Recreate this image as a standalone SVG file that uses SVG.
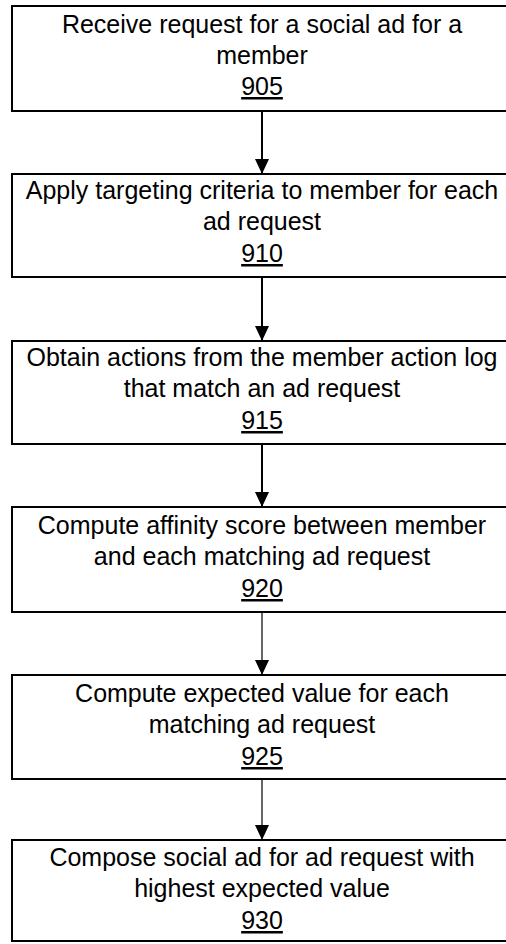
<svg xmlns="http://www.w3.org/2000/svg" width="506" height="944" viewBox="0 0 506 944">
<defs>
<style>
.box{fill:#fff;stroke:#000;stroke-width:2}
.t{font-family:"Liberation Sans",Arial,sans-serif;font-size:25px;fill:#000;text-anchor:middle}
.n{text-decoration:underline}
.c{stroke:#000;fill:none}
</style>
<marker id="ah" markerUnits="userSpaceOnUse" markerWidth="15" markerHeight="14" refX="15" refY="7" orient="auto" viewBox="0 0 15 14">
<path d="M0,0 L15,7 L0,14 Z" fill="#000"/>
</marker>
</defs>
<rect width="506" height="944" fill="#fff"/>
<g id="connectors">
<line class="c" x1="262" y1="111" x2="262" y2="174" stroke-width="2" marker-end="url(#ah)"/>
<line class="c" x1="262" y1="277" x2="262" y2="341" stroke-width="2" marker-end="url(#ah)"/>
<line class="c" x1="262" y1="444" x2="262" y2="507" stroke-width="2" marker-end="url(#ah)"/>
<line class="c" x1="262" y1="612" x2="262" y2="675" stroke-width="1.2" marker-end="url(#ah)"/>
<line class="c" x1="262" y1="779" x2="262" y2="840" stroke-width="1.2" marker-end="url(#ah)"/>
</g>
<g id="n905">
<rect class="box" x="12" y="6" width="500" height="105"/>
<text class="t" x="262" y="33">Receive request for a social ad for a</text>
<text class="t" x="262" y="64">member</text>
<text class="t n" x="262" y="95">905</text>
</g>
<g id="n910">
<rect class="box" x="12" y="174" width="500" height="103"/>
<text class="t" x="262" y="199">Apply targeting criteria to member for each</text>
<text class="t" x="262" y="230">ad request</text>
<text class="t n" x="262" y="262">910</text>
</g>
<g id="n915">
<rect class="box" x="12" y="341" width="500" height="103"/>
<text class="t" x="262" y="366">Obtain actions from the member action log</text>
<text class="t" x="262" y="397">that match an ad request</text>
<text class="t n" x="262" y="429">915</text>
</g>
<g id="n920">
<rect class="box" x="12" y="507" width="500" height="105"/>
<text class="t" x="262" y="534">Compute affinity score between member</text>
<text class="t" x="262" y="565">and each matching ad request</text>
<text class="t n" x="262" y="597">920</text>
</g>
<g id="n925">
<rect class="box" x="12" y="675" width="500" height="104"/>
<text class="t" x="262" y="702">Compute expected value for each</text>
<text class="t" x="262" y="733">matching ad request</text>
<text class="t n" x="262" y="765">925</text>
</g>
<g id="n930">
<rect class="box" x="12" y="840" width="500" height="101"/>
<text class="t" x="262" y="866">Compose social ad for ad request with</text>
<text class="t" x="262" y="897">highest expected value</text>
<text class="t n" x="262" y="929">930</text>
</g>
</svg>
